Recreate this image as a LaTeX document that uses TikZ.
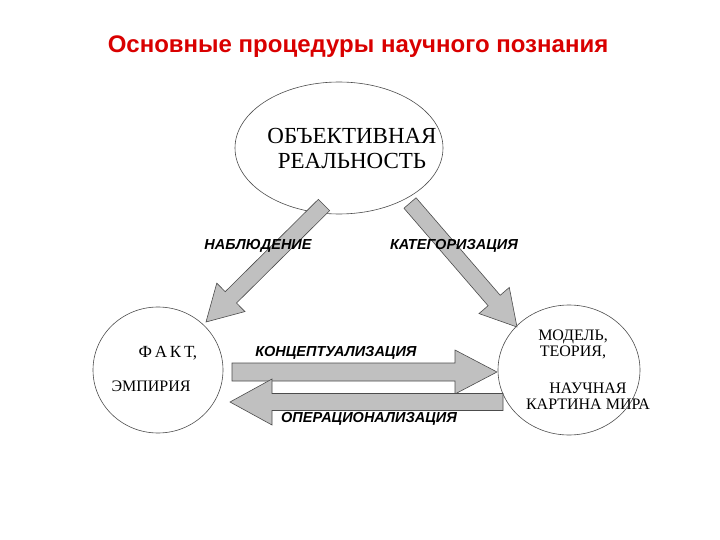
\documentclass[tikz,border=0pt]{standalone}
\usepackage{fontspec}
\setmainfont{Liberation Serif}
\setsansfont{Liberation Sans}
\usetikzlibrary{calc}
\newcommand{\fatarrow}[5]{%
  \coordinate (fa-c) at ($(#2)!#5!(#1)$);
  \draw[fill=arrowgray,draw=black!70,line width=0.6pt]
   ($(#1)!#3!90:(#2)$) -- ($(fa-c)!#3!-90:(#1)$) -- ($(fa-c)!#4!-90:(#1)$) -- (#2)
   -- ($(fa-c)!#4!90:(#1)$) -- ($(fa-c)!#3!90:(#1)$) -- ($(#1)!#3!-90:(#2)$) -- cycle;}
\definecolor{arrowgray}{RGB}{192,192,192}
\begin{document}
\begin{tikzpicture}[x=1pt,y=-1pt,
  lbl/.style={font=\sffamily\bfseries\itshape\fontsize{14.5}{16}\selectfont},
  big/.style={font=\fontsize{23}{25}\selectfont,align=center},
  mid/.style={font=\fontsize{16}{16}\selectfont,align=center}]
\useasboundingbox (0,0) rectangle (720,540);
\node[font=\sffamily\bfseries\fontsize{24}{26}\selectfont,text=red!85!black] (title) at (358,47) {Основные процедуры научного познания};
\draw[black!70,line width=0.6pt] (339,148) ellipse (104 and 66);
\node[big] (real) at (352,148) {ОБЪЕКТИВНАЯ\\РЕАЛЬНОСТЬ};
\draw[black!70,line width=0.6pt] (158,370) ellipse (65 and 63);
\node[mid,anchor=west,font=\fontsize{17}{17}\selectfont] (fakt) at (135,353) {Ф\,А\,К\,Т,};
\node[mid,anchor=west] (emp) at (108,386) {ЭМПИРИЯ};
\draw[black!70,line width=0.6pt] (569,370) ellipse (71 and 65);
\node[mid] (model) at (573,344) {МОДЕЛЬ,\\ТЕОРИЯ,};
\node[mid] (kart) at (588,396) {НАУЧНАЯ\\КАРТИНА МИРА};
\coordinate (a1) at (324,205); \coordinate (b1) at (206,322);
\coordinate (a2) at (410,203); \coordinate (b2) at (517,327);
\coordinate (a3) at (232,372); \coordinate (b3) at (497,372);
\coordinate (a4) at (503,402); \coordinate (b4) at (230,402);
\fatarrow{a1}{b1}{8pt}{20pt}{35pt}
\fatarrow{a2}{b2}{8pt}{20pt}{35pt}
\fatarrow{a3}{b3}{9pt}{22pt}{42pt}
\fatarrow{a4}{b4}{8.5pt}{23pt}{42pt}
\node[lbl] (nab) at (258,246) {НАБЛЮДЕНИЕ};
\node[lbl] (kat) at (454,246) {КАТЕГОРИЗАЦИЯ};
\node[lbl] (kon) at (336,353) {КОНЦЕПТУАЛИЗАЦИЯ};
\node[lbl] (op) at (369,419) {ОПЕРАЦИОНАЛИЗАЦИЯ};
\end{tikzpicture}
\end{document}
